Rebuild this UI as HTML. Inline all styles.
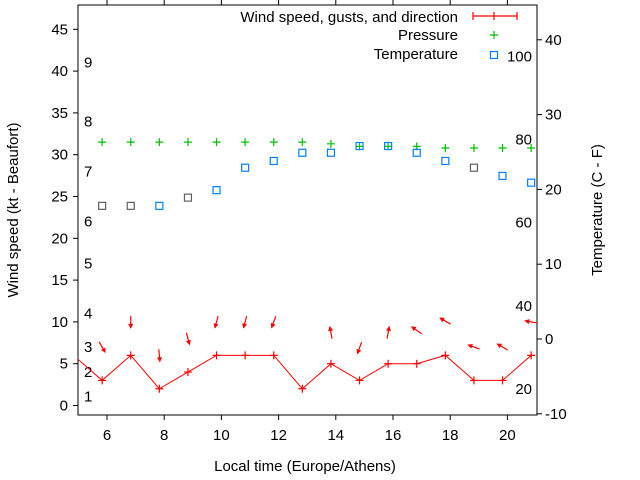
<!DOCTYPE html>
<html><head><meta charset="utf-8"><style>
body{margin:0;background:#fff}
svg{display:block;font-family:"Liberation Sans",sans-serif}
</style></head><body>
<svg id="c" width="640" height="480"></svg>
<script>
const hours=[5.83,6.83,7.83,8.83,9.83,10.83,11.83,12.83,13.83,14.83,15.83,16.83,17.83,18.83,19.83,20.83];
const wind=[3,6,2,4,6,6,6,2,5,3,5,5,6,3,3,6];
const gust=[7,10,6,8,10,10,10,null,8.7,6.9,8.7,9,10.1,7,7,10];
const dirs=[150,180,175,165,195,195,200,null,350,200,10,305,300,290,300,280];
const pressure=[31.5,31.5,31.5,31.5,31.5,31.5,31.5,31.5,31.3,31.0,31.0,31.0,30.8,30.8,30.8,30.8];
const temp=[17.8,17.8,17.8,18.9,19.9,22.9,23.8,24.9,24.9,25.8,25.8,24.9,23.8,22.9,21.8,20.9];
const tempGrey=[1,1,0,1,0,0,0,0,0,0,0,0,0,1,0,0];
const prevHour=4.83, prevWind=6;
const xTicks=[6,8,10,12,14,16,18,20];
const yTicks=[0,5,10,15,20,25,30,35,40,45];
const y2Ticks=[-10,0,10,20,30,40];
const beaufort=[[1,1.1],[2,4],[3,7],[4,11],[5,17],[6,22],[7,28],[8,34],[9,41]];
const fahr=[20,40,60,80,100];

const L=78,R=537,T=5,B=415;
const X=h=>107+28.6*(h-6);
const Y=v=>405.5-8.36*v;
const Y2=t=>339-7.48*t;
const NS='http://www.w3.org/2000/svg';
const svg=document.getElementById('c');
function mk(tag,attrs,parent){const e=document.createElementNS(NS,tag);for(const k in attrs)e.setAttribute(k,attrs[k]);(parent||svg).appendChild(e);return e;}
function txt(s,x,y,anchor,parent,extra){const e=mk('text',Object.assign({x:x,y:y,'font-size':15,fill:'#000','text-anchor':anchor},extra||{}),parent);e.textContent=s;return e;}

const defs=mk('defs',{});
const cp=mk('clipPath',{id:'clip'},defs);
mk('rect',{x:L,y:T,width:R-L,height:B-T},cp);

// axes frame
const frame=mk('rect',{x:L,y:T,width:R-L,height:B-T,fill:'none',stroke:'#000','stroke-width':1});



const xa=mk('g',{});


xTicks.forEach(h=>{const x=X(h);mk('line',{x1:x,y1:B,x2:x,y2:B+5,stroke:'#000'},xa);mk('line',{x1:x,y1:T,x2:x,y2:T-5,stroke:'#000'},xa);
 const t=txt(String(h),x,440,'middle',xa);});
const ya=mk('g',{});


yTicks.forEach(v=>{const y=Y(v);mk('line',{x1:L-5,y1:y,x2:L,y2:y,stroke:'#000'},ya);
 const t=txt(String(v),68,y+5,'end',ya);});
const y2a=mk('g',{});


y2Ticks.forEach(v=>{const y=Y2(v);mk('line',{x1:R,y1:y,x2:R+5,y2:y,stroke:'#000'},y2a);
 const t=txt(String(v),545,y+5,'start',y2a);});

const bl=mk('g',{});


beaufort.forEach(b=>{txt(String(b[0]),84,Y(b[1])+5,'start',bl);});
const fl=mk('g',{});


fahr.forEach(f=>{txt(String(f),532,Y2((f-32)*5/9)+5,'end',fl);});

let t1=txt('Local time (Europe/Athens)',305,471,'middle');

let t2=txt('Wind speed (kt - Beaufort)',0,0,'middle',svg,{transform:'translate(18,210) rotate(-90)'});

let t3=txt('Temperature (C - F)',0,0,'middle',svg,{transform:'translate(602,210) rotate(-90)'});


const plot=mk('g',{'clip-path':'url(#clip)'});
// pressure
const pg=mk('g',{},plot);


pressure.forEach((p,i)=>{const x=X(hours[i]),y=Y(p);mk('path',{d:`M${x-4},${y}h8M${x},${y-4}v8`,stroke:'#00c000','stroke-width':1.2,fill:'none'},pg);});
// temperature
const tg=mk('g',{},plot);


temp.forEach((t,i)=>{const x=X(hours[i]),y=Y2(t);mk('rect',{x:x-3.5,y:y-3.5,width:7,height:7,fill:'none',stroke:tempGrey[i]?'#606060':'#0080ff','stroke-width':1.2},tg);});
// wind line
const wg=mk('g',{},plot);


let d=`M${X(prevHour)},${Y(prevWind)}`;
wind.forEach((w,i)=>{d+=`L${X(hours[i])},${Y(w)}`;});
mk('path',{d:d,stroke:'#ff0000',fill:'none','stroke-width':1},wg);
wind.forEach((w,i)=>{const x=X(hours[i]),y=Y(w);mk('path',{d:`M${x-4},${y}h8M${x},${y-4}v8`,stroke:'#ff0000','stroke-width':1.2},wg);});
// gust/direction arrows
const ag=mk('g',{},plot);


gust.forEach((g,i)=>{if(g==null)return;const cx=X(hours[i]),cy=Y(g);const a=dirs[i]*Math.PI/180;
 const dx=Math.sin(a),dy=-Math.cos(a);const hl=6;
 const hx=cx+dx*hl,hy=cy+dy*hl,tx=cx-dx*hl,ty=cy-dy*hl;
 mk('line',{x1:tx,y1:ty,x2:hx,y2:hy,stroke:'#ff0000','stroke-width':1.2},ag);
 const px=-dy,py=dx;
 mk('polygon',{points:`${hx+dx*1},${hy+dy*1} ${hx-dx*4+px*2.5},${hy-dy*4+py*2.5} ${hx-dx*4-px*2.5},${hy-dy*4-py*2.5}`,fill:'#ff0000'},ag);
});

// legend
const lg=mk('g',{});


const e1=mk('g',{},lg);
txt('Wind speed, gusts, and direction',458,22,'end',e1);
mk('path',{d:'M473,16H517M473,12v8M517,12v8M494,12v8',stroke:'#ff0000','stroke-width':1.2,fill:'none'},e1);
const e2=mk('g',{},lg);
txt('Pressure',458,40,'end',e2);
mk('path',{d:'M490,35h8M494,31v8',stroke:'#00c000','stroke-width':1.2},e2);
const e3=mk('g',{},lg);
txt('Temperature',458,59,'end',e3);
mk('rect',{x:490.5,y:51.5,width:7,height:7,fill:'none',stroke:'#0080ff','stroke-width':1.2},e3);
</script>
</body></html>
